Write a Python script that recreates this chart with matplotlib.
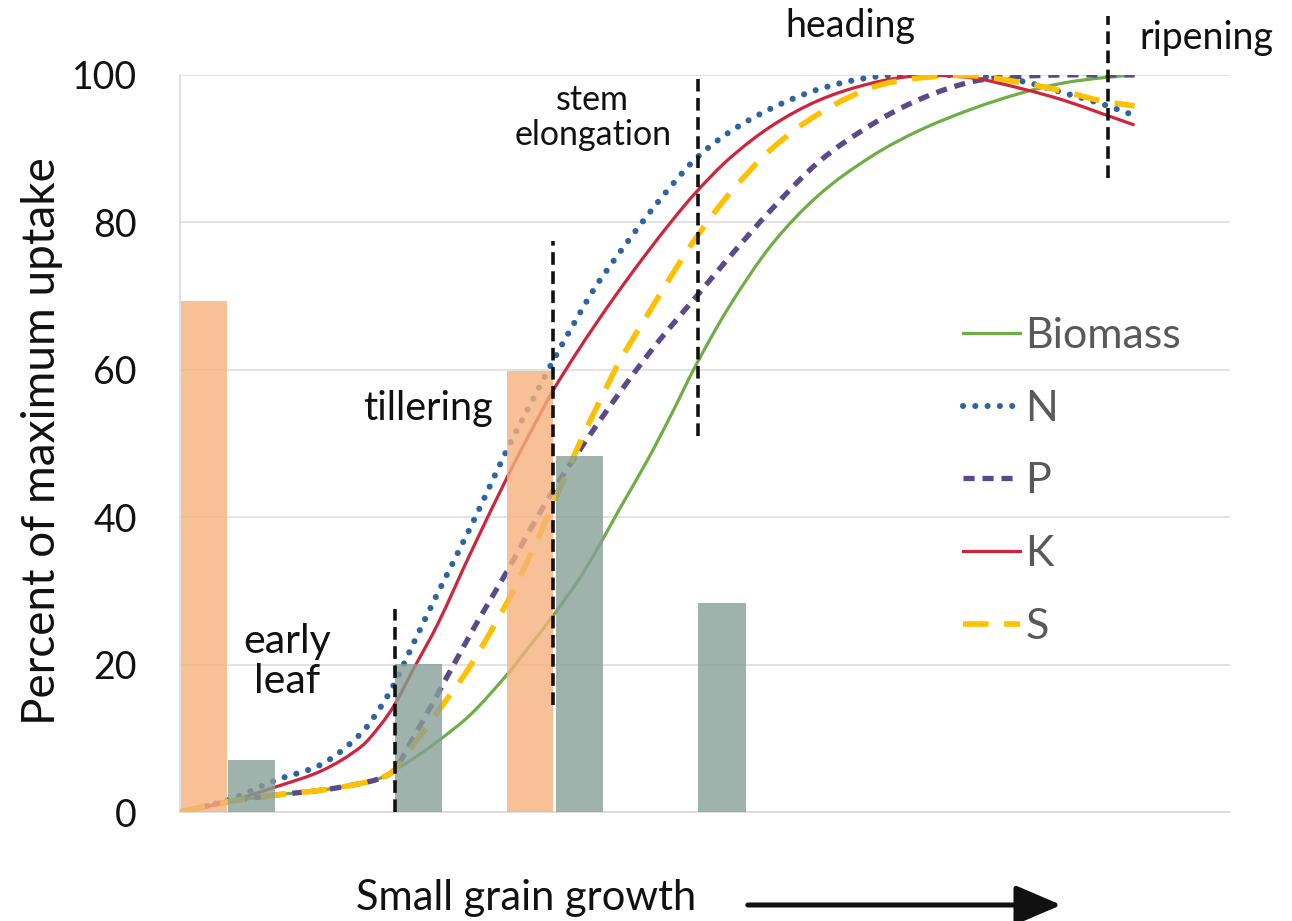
import matplotlib
matplotlib.use('Agg')
import matplotlib.pyplot as plt
import numpy as np
from matplotlib.path import Path
from matplotlib.patches import PathPatch, FancyArrowPatch
from matplotlib.lines import Line2D

# growth stage position (arbitrary units along the x axis)
x = [0, 1, 2, 3, 3.8, 4.2, 4.5, 4.9, 5.4, 6.1, 6.9, 7.3, 7.8, 8.3, 8.7, 9.2, 9.8,
     10.3, 10.8, 11.5, 12.4, 13.4, 14.5, 15.5, 16.6, 17.6, 18.5, 19.3, 20]
biomass = [0, 1.4, 2.3, 3.0, 3.9, 4.6, 5.7, 7.3, 9.6, 13.3, 19, 22.3, 26.5, 31, 35.2, 41, 47.8,
           54, 60.5, 68.5, 77, 83.8, 89, 92.5, 95.4, 97.5, 98.9, 99.6, 100]
n_up = [0, 1.6, 4.3, 6.6, 10.7, 14.2, 17.5, 23, 29.7, 38.8, 49.8, 54.8, 61, 66.8, 71.2, 75.8, 81,
        85, 88.6, 92.2, 95.5, 98.1, 99.7, 100, 99.9, 99.2, 97.6, 96.1, 94.5]
p_up = [0, 1.4, 2.3, 3.0, 3.9, 4.6, 5.8, 10.2, 16, 24.3, 33.2, 37.9, 43.4, 48.4, 52.2, 56.8, 62,
        66, 69.8, 75.2, 81.8, 88.3, 93.3, 96.7, 99.1, 99.8, 100, 100, 100]
k_up = [0, 1.4, 3.4, 5.7, 8.9, 11.8, 14.6, 19.5, 25.5, 35.3, 46, 51, 57, 62.2, 66.1, 70.75, 76,
        80.15, 84, 88.6, 93.1, 96.6, 98.9, 99.9, 99.6, 98.2, 96.6, 94.8, 93.2]
s_up = [0, 1.4, 2.3, 3.0, 3.9, 4.6, 5.7, 9.2, 13.6, 20, 29, 34.3, 41.5, 49, 54.5, 61, 67.5,
        72.8, 77.8, 83.8, 90, 94.8, 98.3, 99.6, 99.9, 99, 97.8, 96.5, 95.8]

# bars
orange_x = [0.5, 7.34]
orange_h = [69.4, 59.8]
gray_x = [1.5, 5.0, 8.37, 11.35]
gray_h = [7.1, 20.1, 48.3, 28.4]

# stage boundary dashed lines: x, ymin, ymax
stage_x = [4.5, 7.82, 10.86, 19.45]
stage_y0 = [0, 14.5, 51, 86]
stage_y1 = [27.5, 77.5, 99.5, 108]

# stage labels
stage_labels = ["early\nleaf", "tillering", "stem\nelongation", "heading", "ripening"]
stage_lx = [2.25, 5.2, 8.65, 14.05, 21.5]
stage_ly = [20.4, 54.8, 94.2, 106.6, 105.0]
stage_fs = [29.5, 28.5, 24.5, 27, 27]

plt.rcParams['font.family'] = ['Lato', 'DejaVu Sans']


def smooth_path(xs, ys):
    """Cubic Hermite path through the given points (smoothed line rendering)."""
    xs = np.asarray(xs, float)
    ys = np.asarray(ys, float)
    n = len(xs)
    m = np.zeros(n)
    m[0] = (ys[1] - ys[0]) / (xs[1] - xs[0])
    m[-1] = (ys[-1] - ys[-2]) / (xs[-1] - xs[-2])
    for i in range(1, n - 1):
        m[i] = (ys[i + 1] - ys[i - 1]) / (xs[i + 1] - xs[i - 1])
    verts = [(xs[0], ys[0])]
    codes = [Path.MOVETO]
    for i in range(n - 1):
        h = xs[i + 1] - xs[i]
        verts += [(xs[i] + h / 3, ys[i] + m[i] * h / 3),
                  (xs[i + 1] - h / 3, ys[i + 1] - m[i + 1] * h / 3),
                  (xs[i + 1], ys[i + 1])]
        codes += [Path.CURVE4] * 3
    return Path(verts, codes)


fig = plt.figure(figsize=(12.92, 9.21), dpi=100)
ax = fig.add_axes([0.1393, 0.1183, 0.8127, 0.8003])
ax.set_xlim(0, 22.0)
ax.set_ylim(0, 100)

ax.set_yticks([0, 20, 40, 60, 80, 100])
ax.set_xticks([])
ax.yaxis.grid(True, color='#DEDEDE', lw=1.2)
ax.set_axisbelow(True)
for s in ['top', 'right']:
    ax.spines[s].set_visible(False)
for s in ['left', 'bottom']:
    ax.spines[s].set_color('#D9D9D9')
    ax.spines[s].set_linewidth(1.2)
ax.tick_params(axis='y', length=0, pad=31, labelsize=27, labelcolor='#111111')

series = [
    ('Biomass', biomass, dict(color='#70AD47', lw=2.3, ls='-', cap='butt')),
    ('N', n_up, dict(color='#2E64A0', lw=4.4, ls=(0, (0.01, 2.0)), cap='round')),
    ('P', p_up, dict(color='#5B4A8A', lw=3.8, ls=(0, (2.1, 1.5)), cap='butt')),
    ('K', k_up, dict(color='#D0243C', lw=2.3, ls='-', cap='butt')),
    ('S', s_up, dict(color='#FFC000', lw=4.0, ls=(0, (4.6, 2.8)), cap='butt')),
]
handles = []
for name, ys, st in series:
    patch = PathPatch(smooth_path(x, ys), facecolor='none', edgecolor=st['color'],
                      lw=st['lw'], linestyle=st['ls'], capstyle=st['cap'],
                      joinstyle='round', zorder=3)
    ax.add_patch(patch)
    handles.append(Line2D([], [], color=st['color'], lw=st['lw'], linestyle=st['ls'],
                          dash_capstyle=st['cap'], label=name))

ax.bar(orange_x, orange_h, width=0.97, color='#F5B17C', alpha=0.8, zorder=4)
ax.bar(gray_x, gray_h, width=1.0, color='#87A097', alpha=0.8, zorder=4)

for sx, y0, y1 in zip(stage_x, stage_y0, stage_y1):
    ax.plot([sx, sx], [y0, y1], color='#111111', lw=2.6, linestyle=(0, (3.5, 1.8)),
            zorder=5, clip_on=False)

for t, lx, ly, fs in zip(stage_labels, stage_lx, stage_ly, stage_fs):
    ax.text(lx, ly, t, ha='center', va='center', fontsize=fs, color='#111111',
            linespacing=1.1, clip_on=False, zorder=6)

fig.text(42 / 1292, 1 - 441 / 921, 'Percent of maximum uptake', rotation=90,
         ha='center', va='center', fontsize=33, color='#111111')

leg = ax.legend(handles=handles, loc='upper left', bbox_to_anchor=(0.7457, 0.672),
                frameon=False, fontsize=31, handlelength=1.33, handletextpad=0.12,
                labelspacing=0.81, borderpad=0, borderaxespad=0)
for t in leg.get_texts():
    t.set_color('#595959')

fig.text(526 / 1292, 1 - 898 / 921, 'Small grain growth', ha='center', va='center',
         fontsize=30, color='#111111')
fig.patches.append(FancyArrowPatch(
    (745 / 1292, 1 - 905 / 921), (1064 / 1292, 1 - 905 / 921), transform=fig.transFigure,
    arrowstyle='-|>,head_length=1.4,head_width=0.6', mutation_scale=20,
    color='#111111', lw=3.6))

fig.savefig('out.png', dpi=100)
